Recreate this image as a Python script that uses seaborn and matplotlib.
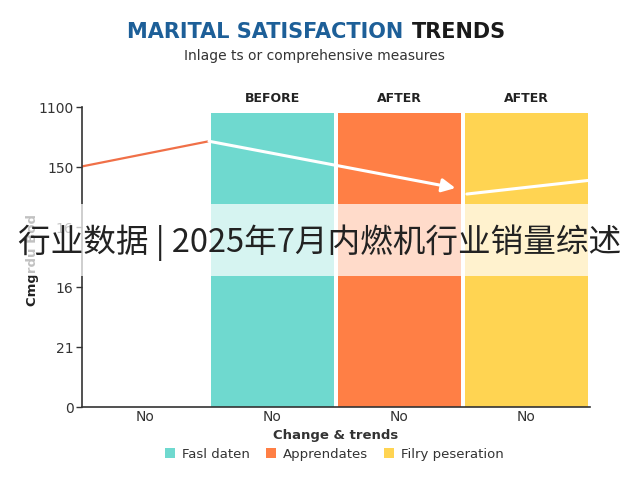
import matplotlib
matplotlib.use("Agg")
import matplotlib.pyplot as plt
from matplotlib.patches import Patch, Rectangle
import pandas as pd
import seaborn as sns

# ------------------------------------------------------------
# data
# ------------------------------------------------------------
categories   = ["none", "before", "after_1", "after_2"]
bar_values   = [0, 4.9, 4.9, 4.9]
bar_colors   = ["#ffffff", "#6fd9cf", "#ff7f45", "#ffd452"]
tick_labels  = ["No", "No", "No", "No"]
col_headers  = ["", "BEFORE", "AFTER", "AFTER"]

ytick_pos    = [0, 1, 2, 3, 4, 5]
ytick_labels = ["0", "21", "16", "16", "150", "1100"]

legend_names  = ["Fasl daten", "Apprendates", "Filry peseration"]
legend_colors = ["#6fd9cf", "#ff7f45", "#ffd452"]

# trend line pieces (x in category units, y in axis units)
orange_x, orange_y = [-0.5, 0.5], [4.01, 4.43]
arrow_x,  arrow_y  = [0.5, 2.44], [4.43, 3.65]
white_x,  white_y  = [2.53, 3.5], [3.55, 3.78]

overlay_text = "行业数据 | 2025年7月内燃机行业销量综述"

# ------------------------------------------------------------
# plot
# ------------------------------------------------------------
sns.set_theme(style="white")
plt.rcParams["font.family"] = ["DejaVu Sans", "Noto Sans CJK SC"]

fig = plt.figure(figsize=(6.4, 4.8), dpi=100)
ax = fig.add_axes([0.128, 0.152, 0.794, 0.625])

df = pd.DataFrame({"cat": categories, "val": bar_values})
sns.barplot(data=df, x="cat", y="val", hue="cat", palette=bar_colors,
            order=categories, width=0.975, legend=False, ax=ax,
            saturation=1, edgecolor="none")

sns.lineplot(x=orange_x, y=orange_y, color="#f07048", linewidth=1.6, ax=ax)
sns.lineplot(x=white_x, y=white_y, color="white", linewidth=2.2, ax=ax)
ax.annotate("", xy=(arrow_x[1], arrow_y[1]), xytext=(arrow_x[0], arrow_y[0]),
            arrowprops=dict(arrowstyle="-|>", color="white", lw=2.2,
                            mutation_scale=20, shrinkA=0, shrinkB=0))

ax.set_xlim(-0.5, 3.5)
ax.set_ylim(0, 5)
ax.set_yticks(ytick_pos)
ax.set_yticklabels(ytick_labels, fontsize=10, color="#333333")
ax.set_xticks(range(len(categories)))
ax.set_xticklabels(tick_labels, fontsize=10, color="#333333")
ax.tick_params(axis="y", length=4, width=1, color="#333333", left=True, pad=2)
ax.tick_params(axis="x", length=0, pad=2)

sns.despine(ax=ax)
for side in ["left", "bottom"]:
    ax.spines[side].set_color("#333333")
    ax.spines[side].set_linewidth(1.2)

ax.set_xlabel("Change & trends", fontsize=9.5, fontweight="bold",
              color="#333333", labelpad=4)
ax.set_ylabel("Cmgrdu Bod", fontsize=9.5, fontweight="bold",
              color="#222222")
ax.yaxis.set_label_coords(-0.085, 0.49)

for i, h in enumerate(col_headers):
    if h:
        ax.text(i, 1.03, h, transform=ax.get_xaxis_transform(),
                ha="center", va="center", fontsize=9,
                fontweight="bold", color="#222222")

# title in two colours + subtitle
fig.text(0.630, 0.933, "MARITAL SATISFACTION", ha="right", va="center",
         fontsize=15, fontweight="bold", color="#1d5f98")
fig.text(0.643, 0.933, "TRENDS", ha="left", va="center",
         fontsize=15, fontweight="bold", color="#1a1a1a")
fig.text(0.492, 0.883, "Inlage ts or comprehensive measures", ha="center",
         va="center", fontsize=10, color="#333333")

handles = [Patch(facecolor=c, edgecolor="none") for c in legend_colors]
fig.legend(handles, legend_names, loc="center", bbox_to_anchor=(0.522, 0.054),
           ncol=3, frameon=False, fontsize=9.5, handlelength=0.8,
           handleheight=0.8, handletextpad=0.5, columnspacing=1.2,
           labelcolor="#333333")

# translucent banner over the middle of the figure
fig.patches.append(Rectangle((0, 0.425), 1, 0.15, transform=fig.transFigure,
                             facecolor="white", alpha=0.72, edgecolor="none",
                             zorder=5))
fig.text(0.5, 0.495, overlay_text, ha="center", va="center", fontsize=23.5,
         family=["Noto Sans CJK SC", "DejaVu Sans"], color="#222222", zorder=6)

plt.savefig("out.png", dpi=100)
